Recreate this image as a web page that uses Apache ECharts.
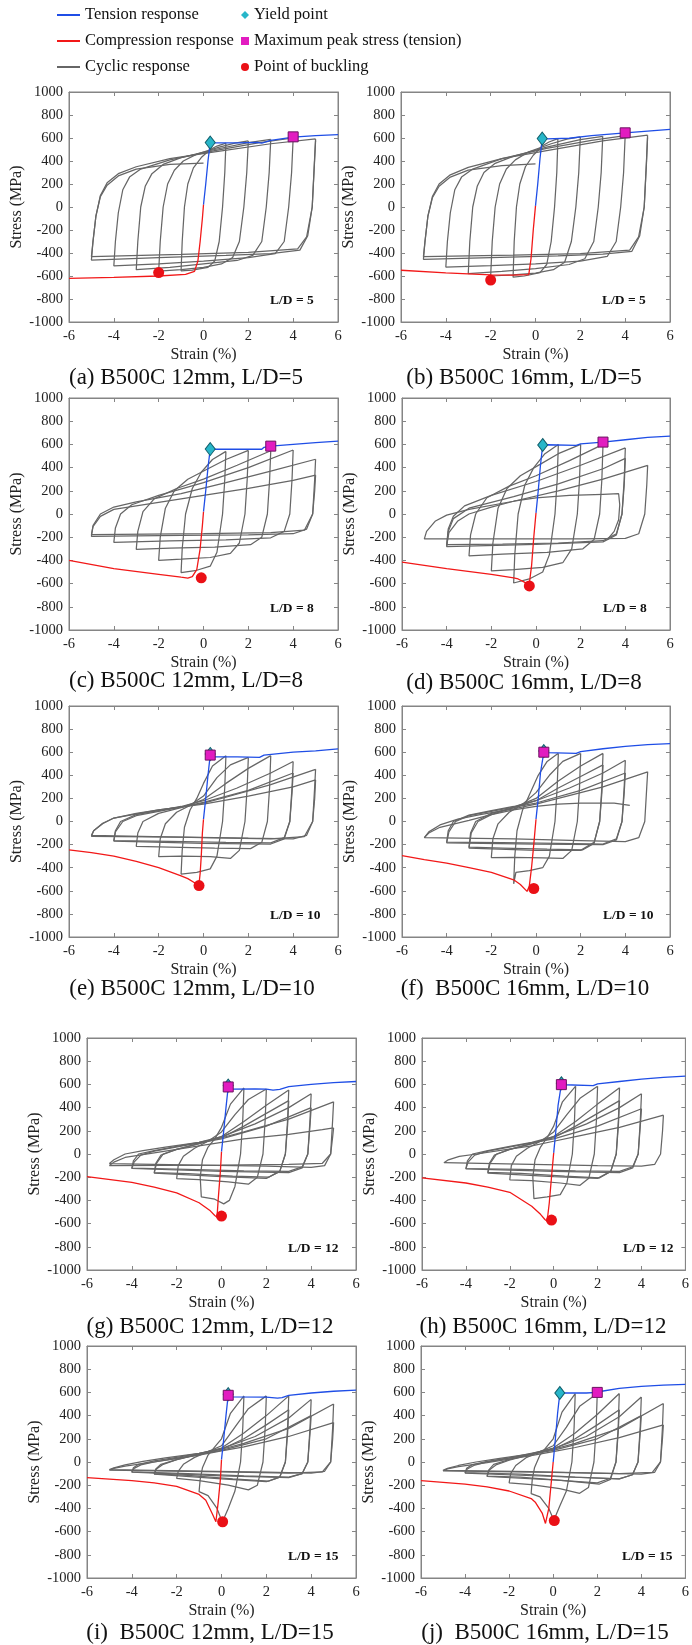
<!DOCTYPE html>
<html>
<head>
<meta charset="utf-8">
<script src="https://cdn.jsdelivr.net/npm/echarts@6/dist/echarts.min.js"></script>
<style>
  html, body { margin: 0; padding: 0; background: #fff; }
  #chart { width: 692px; height: 1645px; }
</style>
</head>
<body>
<div id="chart"></div>
<script>
// 读图得到的数据 (strain %, stress MPa)
const xTicks = [-6, 6, 2]
const yTicks = [-1000, 1000, 200]

const tensionA = [[0,20],[0.1,200],[0.2,400],[0.3,560],[0.5,557],[1.5,558],[2.4,562],[2.6,556],[3,580],[4,608],[5,620],[6,630]]
const compressionA = [[0,20],[-0.05,-100],[-0.15,-300],[-0.25,-470],[-0.4,-560],[-0.8,-585],[-2,-600],[-4,-612],[-6,-620]]
const yieldA = [0.3, 560], peakA = [4, 610], buckleA = [-2, -570]
const cyclicA = [
  [[1,555],[0.95,300],[0.85,0],[0.7,-300],[0.5,-470],[0.2,-525],[-0.5,-548],[-1,-555],[-0.95,-300],[-0.85,0],[-0.7,200],[-0.45,340],[-0.1,430],[0.3,500],[0.6,530],[1,555]],
  [[2,575],[1.93,300],[1.8,0],[1.6,-300],[1.3,-440],[0.8,-495],[0,-525],[-1,-545],[-2,-558],[-1.93,-300],[-1.8,0],[-1.6,200],[-1.3,320],[-0.9,400],[-0.3,460],[0.7,520],[1.4,555],[2,575]],
  [[3,588],[2.93,300],[2.8,0],[2.6,-300],[2.2,-420],[1.5,-465],[0,-495],[-1.5,-525],[-3,-545],[-2.93,-300],[-2.8,0],[-2.6,180],[-2.3,290],[-1.8,370],[-1,430],[0.5,500],[2,560],[3,588]],
  [[4,600],[3.93,300],[3.8,0],[3.6,-300],[3.2,-405],[2,-440],[0,-470],[-2,-495],[-4,-512],[-3.93,-300],[-3.8,-50],[-3.6,150],[-3.3,260],[-2.8,330],[-1.5,410],[0.5,490],[2.5,560],[4,600]],
  [[5,592],[4.95,400],[4.85,0],[4.65,-250],[4.3,-375],[3,-405],[1,-420],[-2,-440],[-5,-462],[-4.93,-300],[-4.8,-80],[-4.6,100],[-4.3,210],[-3.8,290],[-3,350],[-1.5,420],[0.5,480],[3,550],[5,592]],
  [[5,578],[4.95,380],[4.85,0],[4.6,-260],[4.2,-365],[2,-395],[-1,-412],[-5,-432],[-4.93,-300],[-4.8,-80],[-4.6,90],[-4.3,190],[-3.8,270],[-3,330],[-1.5,370],[0,382]]
]

const tensionB = [[0,10],[0.1,200],[0.2,420],[0.3,595],[0.5,592],[1.5,598],[2.5,620],[4,645],[5,660],[6,675]]
const compressionB = [[0,10],[-0.1,-200],[-0.2,-450],[-0.3,-588],[-1,-592],[-2,-590],[-4,-572],[-6,-550]]
const yieldB = [0.3, 595], peakB = [4, 645], buckleB = [-2, -635]
const cyclicB = [
  [[1,595],[0.95,300],[0.85,0],[0.7,-300],[0.5,-500],[0.2,-570],[-0.5,-600],[-1,-610],[-0.95,-300],[-0.85,0],[-0.7,200],[-0.45,350],[-0.1,450],[0.3,530],[0.6,565],[1,595]],
  [[2,610],[1.93,300],[1.8,0],[1.6,-300],[1.3,-480],[0.8,-545],[0,-575],[-1,-590],[-2,-600],[-1.93,-300],[-1.8,0],[-1.6,200],[-1.3,330],[-0.9,410],[-0.3,480],[0.7,550],[1.4,590],[2,610]],
  [[3,615],[2.93,300],[2.8,0],[2.6,-300],[2.2,-450],[1.5,-500],[0,-535],[-1.5,-560],[-3,-580],[-2.93,-300],[-2.8,0],[-2.6,180],[-2.3,300],[-1.8,380],[-1,440],[0.5,520],[2,585],[3,615]],
  [[4,620],[3.93,300],[3.8,0],[3.6,-300],[3.2,-430],[2,-470],[0,-495],[-2,-510],[-4,-522],[-3.93,-300],[-3.8,-50],[-3.6,150],[-3.3,260],[-2.8,330],[-1.5,420],[0.5,510],[2.5,580],[4,620]],
  [[5,625],[4.95,400],[4.85,0],[4.65,-250],[4.3,-385],[3,-410],[1,-425],[-2,-440],[-5,-455],[-4.93,-300],[-4.8,-80],[-4.6,90],[-4.3,200],[-3.8,280],[-3,345],[-1.5,420],[0.5,490],[3,575],[5,625]],
  [[5,605],[4.95,380],[4.85,0],[4.6,-260],[4.2,-375],[2,-405],[-1,-418],[-5,-432],[-4.93,-300],[-4.8,-80],[-4.6,80],[-4.3,180],[-3.8,260],[-3,320],[-1.5,360],[0,375]]
]

const tensionC = [[0,20],[0.1,200],[0.2,400],[0.3,560],[0.5,558],[1.5,560],[2.6,558],[2.7,575],[3,585],[4,600],[5,615],[6,628]]
const compressionC = [[0,20],[-0.05,-100],[-0.15,-300],[-0.3,-480],[-0.5,-540],[-0.7,-552],[-1,-545],[-2,-520],[-4,-470],[-6,-400]]
const yieldC = [0.3, 560], peakC = [3, 585], buckleC = [-0.1, -550]
const cyclicC = [
  [[1,540],[0.95,300],[0.85,0],[0.6,-330],[0.3,-450],[-0.3,-485],[-1,-505],[-0.95,-300],[-0.8,0],[-0.5,220],[-0.1,360],[0.4,470],[1,540]],
  [[2,548],[1.95,300],[1.85,0],[1.6,-250],[1.2,-340],[0.3,-375],[-1,-390],[-2,-400],[-1.93,-200],[-1.7,50],[-1.3,200],[-0.7,300],[0.2,390],[1,470],[2,548]],
  [[3,545],[2.95,300],[2.85,0],[2.6,-200],[2.1,-265],[0.5,-285],[-1.5,-295],[-3,-305],[-2.93,-150],[-2.7,20],[-2.2,130],[-1.2,220],[0,300],[1.5,420],[3,545]],
  [[4,552],[3.95,300],[3.85,0],[3.6,-150],[3,-205],[1,-222],[-1.5,-232],[-4,-245],[-3.93,-120],[-3.7,0],[-3.2,80],[-2,160],[0,270],[2,400],[4,552]],
  [[5,472],[4.96,300],[4.87,0],[4.6,-130],[4,-170],[2,-180],[-1,-185],[-5,-192],[-4.93,-100],[-4.6,0],[-4,60],[-3,105],[-1,175],[1,270],[3,370],[5,472]],
  [[5,335],[4.96,200],[4.87,0],[4.5,-140],[3,-160],[0,-170],[-5,-178],[-4.93,-110],[-4.6,-20],[-4,40],[-2,100],[0,160],[2,220],[4,290],[5,335]]
]

const tensionD = [[0,10],[0.1,200],[0.2,420],[0.3,595],[0.5,597],[1.8,592],[2,605],[3,620],[4,640],[5,660],[6,672]]
const compressionD = [[0,10],[-0.1,-200],[-0.2,-450],[-0.3,-600],[-0.5,-590],[-0.8,-560],[-1,-550],[-2,-520],[-4,-470],[-6,-415]]
const yieldD = [0.3, 595], peakD = [3, 620], buckleD = [-0.3, -620]
const cyclicD = [
  [[1,600],[0.95,300],[0.85,0],[0.6,-350],[0.3,-500],[-0.3,-560],[-1,-595],[-0.95,-350],[-0.8,0],[-0.5,250],[-0.1,400],[0.4,520],[1,600]],
  [[2,600],[1.95,300],[1.85,0],[1.6,-300],[1.2,-420],[0.3,-460],[-1,-480],[-2,-490],[-1.93,-250],[-1.7,50],[-1.3,220],[-0.7,330],[0.2,430],[1,520],[2,600]],
  [[3,600],[2.95,300],[2.85,0],[2.6,-220],[2.1,-300],[0.5,-330],[-1.5,-345],[-3,-360],[-2.93,-180],[-2.7,0],[-2.2,140],[-1.2,240],[0,330],[1.5,460],[3,600]],
  [[4,570],[3.95,300],[3.85,0],[3.6,-170],[3,-230],[1,-250],[-1.5,-260],[-4,-265],[-3.93,-130],[-3.7,-20],[-3.2,70],[-2,160],[0,280],[2,420],[4,570]],
  [[4,480],[3.95,250],[3.85,0],[3.6,-180],[3,-240],[0,-262],[-4,-282],[-3.93,-150],[-3.7,-40],[-3,50],[-1,150],[1,260],[3,390],[4,480]],
  [[5,420],[4.96,250],[4.87,0],[4.6,-170],[4,-210],[2,-215],[-1,-215],[-5,-215],[-4.9,-150],[-4.5,-60],[-4,-10],[-3,40],[-1,110],[1,200],[3,300],[5,420]],
  [[-4,-275],[-3.9,-160],[-3.5,-60],[-3,0],[-2,60],[-1,110],[0,140],[1.5,160],[3,170],[3.7,175],[3.75,80],[3.7,-50],[3.5,-150],[3.2,-220]]
]

const tensionE = [[0,20],[0.1,200],[0.2,400],[0.3,575],[0.5,560],[1.5,560],[2.5,555],[2.7,575],[4,600],[5,612],[6,628]]
const compressionE = [[0,20],[-0.05,-100],[-0.1,-300],[-0.15,-450],[-0.2,-540],[-0.4,-530],[-0.7,-495],[-1,-470],[-2,-400],[-3,-345],[-4,-300],[-5,-270],[-6,-245]]
const yieldE = [0.3, 585], peakE = [0.3, 575], buckleE = [-0.2, -555]
const cyclicE = [
  [[1,570],[0.95,300],[0.85,0],[0.6,-300],[0.3,-410],[-0.3,-440],[-1,-455],[-0.95,-250],[-0.85,-50],[-0.6,100],[-0.3,200],[0,330],[0.4,480],[1,570]],
  [[2,555],[1.95,300],[1.85,0],[1.6,-250],[1.2,-320],[0.3,-305],[-1,-300],[-2,-305],[-1.93,-150],[-1.7,-20],[-1.2,80],[-0.6,140],[0,220],[0.6,380],[1.2,490],[2,555]],
  [[3,570],[2.95,300],[2.85,0],[2.6,-180],[2.1,-235],[0.5,-230],[-1.5,-222],[-3,-215],[-2.93,-100],[-2.7,0],[-2,70],[-1,120],[0,190],[1,330],[2,460],[3,570]],
  [[4,520],[3.95,300],[3.85,0],[3.6,-140],[3,-185],[1,-180],[-1.5,-172],[-4,-165],[-3.93,-80],[-3.7,0],[-3,60],[-2,95],[-1,130],[0,180],[1.5,290],[3,420],[4,520]],
  [[4,420],[3.95,250],[3.85,0],[3.6,-150],[3,-195],[0,-190],[-4,-170],[-3.93,-90],[-3.6,0],[-3,50],[-1,125],[0,165],[2,270],[4,420]],
  [[5,452],[4.96,300],[4.87,0],[4.6,-120],[4,-150],[2,-145],[-1,-135],[-5,-128],[-4.9,-80],[-4.5,-20],[-4,30],[-3,70],[-2,100],[-1,125],[0,160],[1,210],[3,320],[5,452]],
  [[5,360],[4.96,200],[4.87,0],[4.5,-130],[3,-150],[0,-140],[-5,-120],[-4.9,-80],[-4.5,-15],[-4,30],[-2,100],[0,150],[2,220],[4,300],[5,360]]
]

const tensionF = [[0,20],[0.1,200],[0.2,420],[0.35,600],[0.5,597],[1.8,590],[2,605],[3,630],[4,650],[5,665],[6,675]]
const compressionF = [[0,20],[-0.1,-200],[-0.2,-400],[-0.3,-560],[-0.4,-605],[-0.7,-545],[-1,-505],[-2,-440],[-3,-400],[-4,-360],[-5,-330],[-6,-295]]
const yieldF = [0.35, 610], peakF = [0.35, 600], buckleF = [-0.1, -580]
const cyclicF = [
  [[1,590],[0.95,300],[0.85,0],[0.6,-300],[0.3,-400],[-0.3,-425],[-0.9,-440],[-1,-540],[-0.95,-300],[-0.85,-80],[-0.6,100],[-0.3,230],[0.1,400],[0.5,520],[1,590]],
  [[2,590],[1.95,300],[1.85,0],[1.6,-250],[1.2,-320],[0.3,-315],[-1,-310],[-2,-312],[-1.93,-150],[-1.7,-20],[-1.2,80],[-0.6,150],[0,250],[0.6,400],[1.2,520],[2,590]],
  [[3,590],[2.95,300],[2.85,0],[2.6,-190],[2.1,-245],[0.5,-240],[-1.5,-230],[-3,-222],[-2.93,-100],[-2.7,0],[-2,70],[-1,120],[0,200],[1,350],[2,480],[3,590]],
  [[3,490],[2.95,250],[2.85,0],[2.6,-180],[2,-250],[0,-250],[-3,-230],[-2.9,-100],[-2.6,0],[-2,60],[-1,120],[0,180],[1,290],[2,390],[3,490]],
  [[4,530],[3.95,300],[3.85,0],[3.6,-150],[3,-195],[1,-190],[-1.5,-183],[-4,-178],[-3.93,-80],[-3.7,0],[-3,55],[-2,95],[-1,130],[0,180],[1.5,290],[3,420],[4,530]],
  [[4,420],[3.95,250],[3.85,0],[3.6,-160],[3,-200],[0,-195],[-4,-185],[-3.9,-90],[-3.6,0],[-3,50],[-1,125],[0,160],[2,270],[4,420]],
  [[5,430],[4.96,300],[4.87,0],[4.6,-140],[4,-175],[2,-165],[-1,-150],[-5,-140],[-4.8,-90],[-4.3,-30],[-3.5,20],[-2.5,60],[-1,110],[0,150],[1,200],[3,300],[5,430]],
  [[-5,-140],[-4.8,-100],[-4.3,-50],[-3,10],[-2,60],[-1,100],[0,130],[1,150],[2,160],[3.5,160],[4.2,140]]
]

const tensionG = [[0,20],[0.1,200],[0.2,400],[0.3,580],[0.5,560],[1.5,562],[2,560],[2.3,550],[2.6,558],[3,580],[4,600],[5,615],[6,625]]
const compressionG = [[0,20],[-0.05,-150],[-0.15,-400],[-0.2,-545],[-0.3,-530],[-0.5,-490],[-1,-420],[-2,-335],[-3,-285],[-4,-245],[-6,-195]]
const yieldG = [0.3, 590], peakG = [0.3, 578], buckleG = [0, -535]
const cyclicG = [
  [[1,570],[0.95,300],[0.85,0],[0.6,-280],[0.35,-400],[0.1,-430],[-0.3,-390],[-0.9,-370],[-0.95,-200],[-0.85,-50],[-0.6,60],[-0.3,130],[0,230],[0.4,430],[1,570]],
  [[2,560],[1.95,300],[1.85,0],[1.6,-200],[1.2,-260],[0.3,-240],[-1,-220],[-2,-212],[-1.93,-100],[-1.7,-20],[-1.2,50],[-0.6,110],[0,190],[0.6,340],[1.2,470],[2,560]],
  [[3,552],[2.95,300],[2.85,0],[2.6,-150],[2.1,-200],[0.5,-190],[-1.5,-170],[-3,-160],[-2.93,-80],[-2.7,-10],[-2,40],[-1,90],[0,150],[1,280],[2,420],[3,552]],
  [[3,460],[2.95,250],[2.85,0],[2.6,-150],[2,-210],[0,-195],[-3,-165],[-2.9,-80],[-2.6,0],[-2,40],[-1,90],[0,140],[1,240],[2,350],[3,460]],
  [[4,520],[3.95,300],[3.85,0],[3.6,-110],[3,-150],[1,-145],[-1.5,-132],[-4,-122],[-3.93,-60],[-3.7,0],[-3,30],[-2,65],[-1,100],[0,150],[1.5,260],[3,400],[4,520]],
  [[4,400],[3.95,250],[3.85,0],[3.6,-120],[3,-160],[0,-150],[-4,-125],[-3.9,-70],[-3.6,-10],[-3,25],[-1,95],[0,130],[2,240],[4,400]],
  [[5,450],[4.96,300],[4.87,0],[4.6,-100],[4,-115],[2,-105],[-1,-95],[-5,-82],[-4.8,-50],[-4.3,0],[-3.5,30],[-2.5,60],[-1,100],[0,140],[1,190],[3,300],[5,450]],
  [[5,225],[4.96,150],[4.87,0],[4.5,-80],[3,-90],[0,-95],[-5,-100],[-4.8,-70],[-4.3,-30],[-3,10],[-2,40],[-1,70],[0,100],[1,130],[3,170],[4.5,210],[5,225]]
]

const tensionH = [[0,10],[0.1,200],[0.2,420],[0.35,600],[0.5,597],[1.8,590],[2,605],[3,625],[4,645],[5,660],[6,672]]
const compressionH = [[0,10],[-0.1,-200],[-0.2,-420],[-0.3,-580],[-0.4,-565],[-0.6,-520],[-1,-450],[-2,-330],[-3,-285],[-4,-250],[-6,-205]]
const yieldH = [0.35, 610], peakH = [0.35, 598], buckleH = [-0.1, -570]
const cyclicH = [
  [[1,585],[0.95,300],[0.85,0],[0.6,-250],[0.3,-350],[-0.3,-370],[-0.9,-385],[-0.95,-200],[-0.85,-50],[-0.6,60],[-0.3,140],[0,240],[0.4,450],[1,585]],
  [[2,585],[1.95,300],[1.85,0],[1.6,-210],[1.2,-270],[0.3,-250],[-1,-230],[-2,-222],[-1.93,-100],[-1.7,-20],[-1.2,50],[-0.6,110],[0,190],[0.6,340],[1.2,480],[2,585]],
  [[3,572],[2.95,300],[2.85,0],[2.6,-150],[2.1,-205],[0.5,-190],[-1.5,-168],[-3,-158],[-2.93,-80],[-2.7,-10],[-2,40],[-1,90],[0,150],[1,280],[2,430],[3,572]],
  [[3,460],[2.95,250],[2.85,0],[2.6,-150],[2,-210],[0,-195],[-3,-165],[-2.9,-80],[-2.6,0],[-2,40],[-1,90],[0,140],[1,240],[2,350],[3,460]],
  [[4,520],[3.95,300],[3.85,0],[3.6,-110],[3,-150],[1,-145],[-1.5,-132],[-4,-125],[-3.93,-60],[-3.7,0],[-3,30],[-2,65],[-1,100],[0,150],[1.5,260],[3,400],[4,520]],
  [[4,390],[3.95,250],[3.85,0],[3.6,-120],[3,-160],[0,-150],[-4,-128],[-3.9,-70],[-3.6,-10],[-3,25],[-1,95],[0,130],[2,240],[4,390]],
  [[5,335],[4.96,200],[4.87,0],[4.6,-90],[4,-105],[2,-100],[-1,-90],[-5,-75],[-4.8,-50],[-4.3,-20],[-3.5,0],[-2.5,30],[-1,70],[0,110],[1,150],[3,230],[5,335]]
]

const tensionI = [[0,20],[0.1,200],[0.2,400],[0.3,580],[0.5,562],[2,560],[2.5,550],[2.7,555],[3,575],[4,595],[5,610],[6,620]]
const compressionI = [[0,20],[-0.05,-150],[-0.15,-350],[-0.25,-515],[-0.4,-450],[-0.7,-330],[-1,-280],[-2,-210],[-3,-180],[-4,-160],[-6,-135]]
const yieldI = [0.3, 585], peakI = [0.3, 575], buckleI = [0.05, -515]
const cyclicI = [
  [[1,570],[0.95,300],[0.85,0],[0.6,-250],[0.3,-400],[0.1,-490],[0,-500],[-0.2,-400],[-0.6,-290],[-1,-255],[-0.95,-150],[-0.85,-50],[-0.6,60],[-0.3,130],[0,200],[0.4,420],[1,570]],
  [[2,570],[1.95,300],[1.85,0],[1.6,-200],[1.2,-240],[0.3,-200],[-1,-160],[-2,-142],[-1.93,-80],[-1.7,-20],[-1.2,40],[-0.6,90],[0,140],[0.6,300],[1.2,460],[2,570]],
  [[3,570],[2.95,300],[2.85,0],[2.6,-130],[2.1,-165],[0.5,-145],[-1.5,-115],[-3,-102],[-2.93,-60],[-2.7,-20],[-2,20],[-1,70],[0,120],[1,250],[2,400],[3,570]],
  [[3,450],[2.95,250],[2.85,0],[2.6,-130],[2,-170],[0,-145],[-3,-105],[-2.9,-60],[-2.6,-20],[-2,20],[-1,65],[0,110],[1,200],[2,320],[3,450]],
  [[4,540],[3.95,300],[3.85,0],[3.6,-100],[3,-130],[1,-120],[-1.5,-100],[-4,-85],[-3.93,-50],[-3.7,-20],[-3,10],[-2,40],[-1,75],[0,115],[1.5,220],[3,380],[4,540]],
  [[4,400],[3.95,250],[3.85,0],[3.6,-100],[3,-135],[0,-120],[-4,-88],[-3.9,-55],[-3.6,-25],[-3,0],[-1,65],[0,100],[2,200],[4,400]],
  [[5,500],[4.96,300],[4.87,0],[4.6,-80],[4,-95],[2,-88],[-1,-78],[-5,-65],[-4.8,-50],[-4.3,-25],[-3.5,5],[-2.5,35],[-1,75],[0,110],[1,160],[3,290],[5,500]],
  [[5,340],[4.96,200],[4.87,0],[4.5,-85],[3,-95],[0,-85],[-5,-70],[-4.8,-55],[-4.3,-35],[-3,0],[-2,30],[-1,60],[0,95],[1,130],[3,220],[5,340]]
]

const tensionJ = [[0,0],[0.1,200],[0.2,420],[0.3,590],[0.5,595],[1.5,595],[2,600],[2.2,610],[3,635],[4,652],[5,663],[6,670]]
const compressionJ = [[0,0],[-0.1,-200],[-0.2,-400],[-0.35,-530],[-0.5,-440],[-0.8,-350],[-1,-315],[-2,-250],[-3,-215],[-4,-190],[-6,-160]]
const yieldJ = [0.3, 595], peakJ = [2, 600], buckleJ = [0.05, -505]
const cyclicJ = [
  [[1,590],[0.95,300],[0.85,0],[0.6,-250],[0.3,-380],[0.1,-470],[0,-490],[-0.2,-400],[-0.6,-300],[-1,-272],[-0.95,-150],[-0.85,-50],[-0.6,60],[-0.3,130],[0,200],[0.4,430],[1,590]],
  [[2,590],[1.95,300],[1.85,0],[1.6,-220],[1.2,-270],[0.3,-230],[-1,-195],[-2,-180],[-1.93,-100],[-1.7,-30],[-1.2,40],[-0.6,90],[0,140],[0.6,300],[1.2,480],[2,590]],
  [[3,590],[2.95,300],[2.85,0],[2.6,-150],[2.1,-190],[0.5,-160],[-1.5,-130],[-3,-122],[-2.93,-70],[-2.7,-20],[-2,20],[-1,70],[0,120],[1,250],[2,410],[3,590]],
  [[3,450],[2.95,250],[2.85,0],[2.6,-140],[2,-180],[0,-155],[-3,-125],[-2.9,-70],[-2.6,-25],[-2,15],[-1,65],[0,110],[1,200],[2,320],[3,450]],
  [[4,560],[3.95,300],[3.85,0],[3.6,-110],[3,-145],[1,-130],[-1.5,-105],[-4,-92],[-3.93,-55],[-3.7,-25],[-3,5],[-2,35],[-1,75],[0,115],[1.5,220],[3,390],[4,560]],
  [[4,400],[3.95,250],[3.85,0],[3.6,-110],[3,-145],[0,-125],[-4,-95],[-3.9,-60],[-3.6,-30],[-3,0],[-1,65],[0,100],[2,200],[4,400]],
  [[5,505],[4.96,300],[4.87,0],[4.6,-90],[4,-105],[2,-95],[-1,-82],[-5,-72],[-4.8,-55],[-4.3,-30],[-3.5,0],[-2.5,30],[-1,70],[0,110],[1,160],[3,290],[5,505]],
  [[5,320],[4.96,200],[4.87,0],[4.5,-90],[3,-100],[0,-90],[-5,-76],[-4.8,-60],[-4.3,-40],[-3,-5],[-2,25],[-1,55],[0,90],[1,125],[3,210],[5,320]]
]

const captions = [
  '(a) B500C 12mm, L/D=5', '(b) B500C 16mm, L/D=5',
  '(c) B500C 12mm, L/D=8', '(d) B500C 16mm, L/D=8',
  '(e) B500C 12mm, L/D=10', '(f)  B500C 16mm, L/D=10',
  '(g) B500C 12mm, L/D=12', '(h) B500C 16mm, L/D=12',
  '(i)  B500C 12mm, L/D=15', '(j)  B500C 16mm, L/D=15',
]
const ldLabels = ['L/D = 5', 'L/D = 5', 'L/D = 8', 'L/D = 8', 'L/D = 10', 'L/D = 10', 'L/D = 12', 'L/D = 12', 'L/D = 15', 'L/D = 15']

const panels = [
  [tensionA, compressionA, cyclicA, yieldA, peakA, buckleA],
  [tensionB, compressionB, cyclicB, yieldB, peakB, buckleB],
  [tensionC, compressionC, cyclicC, yieldC, peakC, buckleC],
  [tensionD, compressionD, cyclicD, yieldD, peakD, buckleD],
  [tensionE, compressionE, cyclicE, yieldE, peakE, buckleE],
  [tensionF, compressionF, cyclicF, yieldF, peakF, buckleF],
  [tensionG, compressionG, cyclicG, yieldG, peakG, buckleG],
  [tensionH, compressionH, cyclicH, yieldH, peakH, buckleH],
  [tensionI, compressionI, cyclicI, yieldI, peakI, buckleI],
  [tensionJ, compressionJ, cyclicJ, yieldJ, peakJ, buckleJ],
]

// 每个子图的位置 (像素)
const boxes = [
  [69, 92, 269, 230], [401, 92, 269, 230],
  [69, 398, 269, 232], [402, 398, 268, 232],
  [69, 706, 269, 231], [402, 706, 268, 231],
  [87, 1038, 269, 232], [422, 1038, 269, 232],
  [87, 1346, 269, 232], [421, 1346, 270, 232],
]
const captionPos = [
  [186, 378], [524, 378], [186, 681], [524, 683], [192, 989],
  [525, 989], [210, 1327], [543, 1327], [210, 1633], [545, 1633],
]

const FONT = 'Liberation Serif'
const FRAME = '#858585'
const BLUE = '#1f4ee6'
const RED = '#f21818'
const GRAY = '#666666'

const grid = [], xAxis = [], yAxis = [], series = [], graphic = []

boxes.forEach((b, i) => {
  grid.push({ left: b[0], top: b[1], width: b[2], height: b[3], show: true, borderColor: FRAME, borderWidth: 1, backgroundColor: '#fff' })

  const tick = { show: true, inside: true, length: 4, lineStyle: { color: FRAME } }
  const line = { show: true, onZero: false, lineStyle: { color: FRAME, width: 1 } }
  const label = { color: '#222', fontFamily: FONT, fontSize: 14.5, formatter: v => String(v) }
  const nameStyle = { color: '#222', fontFamily: FONT, fontSize: 16 }

  xAxis.push({
    type: 'value', gridIndex: i, min: xTicks[0], max: xTicks[1], interval: xTicks[2],
    axisLine: line, axisTick: tick, splitLine: { show: false },
    axisLabel: Object.assign({ margin: 7 }, label),
    name: 'Strain (%)', nameLocation: 'middle', nameGap: 25, nameTextStyle: nameStyle,
  })
  xAxis.push({
    type: 'value', gridIndex: i, position: 'top', min: xTicks[0], max: xTicks[1], interval: xTicks[2],
    axisLine: line, axisTick: tick, splitLine: { show: false }, axisLabel: { show: false },
  })
  yAxis.push({
    type: 'value', gridIndex: i, min: yTicks[0], max: yTicks[1], interval: yTicks[2],
    axisLine: line, axisTick: tick, splitLine: { show: false },
    axisLabel: Object.assign({ margin: 6 }, label),
    name: 'Stress (MPa)', nameLocation: 'middle', nameGap: 39, nameTextStyle: nameStyle,
  })
  yAxis.push({
    type: 'value', gridIndex: i, position: 'right', min: yTicks[0], max: yTicks[1], interval: yTicks[2],
    axisLine: line, axisTick: tick, splitLine: { show: false }, axisLabel: { show: false },
  })

  const [tension, compression, cyclic, yieldPt, peakPt, bucklePt] = panels[i]
  const ax = { xAxisIndex: 2 * i, yAxisIndex: 2 * i }

  cyclic.forEach(loop => {
    series.push(Object.assign({
      type: 'line', name: 'Cyclic response', data: loop, symbol: 'none', silent: true, z: 2,
      lineStyle: { color: GRAY, width: 1.25 }, itemStyle: { color: GRAY },
    }, ax))
  })
  series.push(Object.assign({
    type: 'line', name: 'Tension response', data: tension, symbol: 'none', silent: true, z: 3,
    lineStyle: { color: BLUE, width: 1.3 }, itemStyle: { color: BLUE },
  }, ax))
  series.push(Object.assign({
    type: 'line', name: 'Compression response', data: compression, symbol: 'none', silent: true, z: 3,
    lineStyle: { color: RED, width: 1.3 }, itemStyle: { color: RED },
  }, ax))
  series.push(Object.assign({
    type: 'scatter', name: 'Yield point', data: [yieldPt], symbol: 'diamond', symbolSize: [10, 13], z: 5,
    itemStyle: { color: '#27b6c9', borderColor: '#135e6a', borderWidth: 1, opacity: 1 },
  }, ax))
  series.push(Object.assign({
    type: 'scatter', name: 'Maximum peak stress (tension)', data: [peakPt], symbol: 'rect', symbolSize: 10, z: 6,
    itemStyle: { color: '#e21cc0', borderColor: '#6c1260', borderWidth: 1, opacity: 1 },
  }, ax))
  series.push(Object.assign({
    type: 'scatter', name: 'Point of buckling', data: [bucklePt], symbol: 'circle', symbolSize: 11, z: 6,
    itemStyle: { color: '#ea1016', opacity: 1 },
  }, ax))

  graphic.push({
    type: 'text', x: captionPos[i][0], y: captionPos[i][1], silent: true,
    style: { text: captions[i], font: '23px "Liberation Serif"', fill: '#111', textAlign: 'center', textVerticalAlign: 'middle' },
  })
  graphic.push({
    type: 'text', x: b[0] + 201, y: b[1] + b[3] - 21, silent: true, z: 10,
    style: { text: ldLabels[i], font: 'bold 13.5px "Liberation Serif"', fill: '#111', textAlign: 'left', textVerticalAlign: 'middle' },
  })
})

const legendText = { color: '#111', fontFamily: FONT, fontSize: 16.5, lineHeight: 18 }
const noBorder = { borderWidth: 0 }

const option = {
  animation: false,
  backgroundColor: '#fff',
  legend: [
    {
      left: 57, top: 6, orient: 'vertical', itemWidth: 23, itemHeight: 2, itemGap: 8, padding: 0,
      selectedMode: false, textStyle: legendText,
      data: [
        { name: 'Tension response', icon: 'rect' },
        { name: 'Compression response', icon: 'rect' },
        { name: 'Cyclic response', icon: 'rect' },
      ],
    },
    {
      left: 241, top: 6, orient: 'vertical', itemWidth: 8, itemHeight: 8, itemGap: 8, padding: 0,
      selectedMode: false, textStyle: legendText,
      data: [
        { name: 'Yield point', icon: 'diamond', itemStyle: noBorder },
        { name: 'Maximum peak stress (tension)', icon: 'rect', itemStyle: noBorder },
        { name: 'Point of buckling', icon: 'circle', itemStyle: noBorder },
      ],
    },
  ],
  grid, xAxis, yAxis, series, graphic,
}

const chart = echarts.init(document.getElementById('chart'), null, { renderer: 'canvas' })
chart.setOption(option)
</script>
</body>
</html>
